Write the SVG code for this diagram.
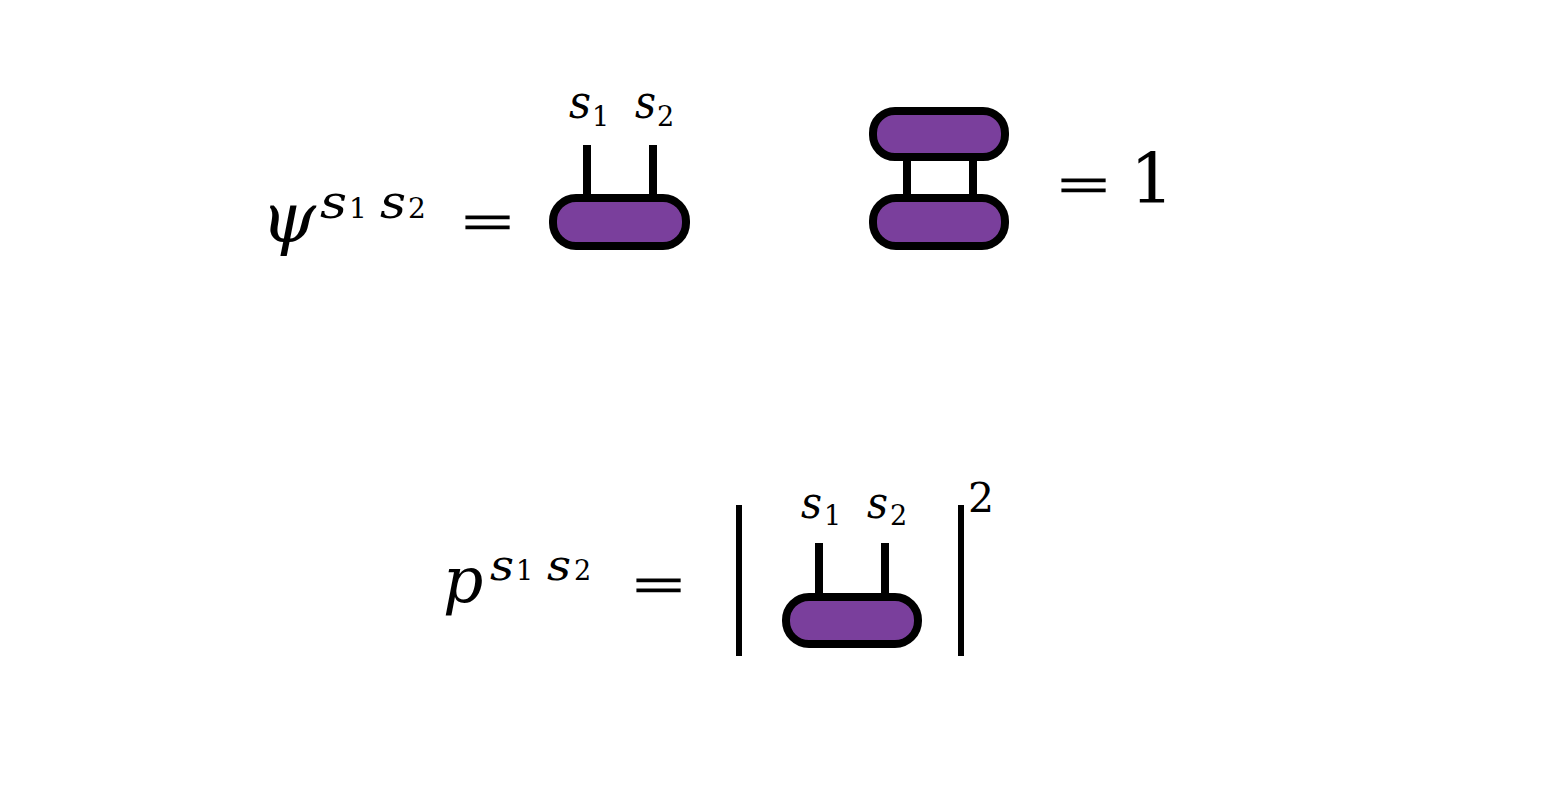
<svg xmlns="http://www.w3.org/2000/svg" width="1560" height="812" viewBox="0 0 1560 812">
<style>
.t{font-family:"DejaVu Serif","Liberation Serif",serif;fill:#000}
.it{font-style:italic}
.eq{font-family:"Liberation Serif","Times New Roman",serif;fill:#000;stroke:#000;stroke-width:1.2}
.node{fill:#7a3f9c;stroke:#000;stroke-width:8}
.leg{stroke:#000;stroke-width:8;fill:none}
.bar{stroke:#000;stroke-width:6;fill:none}
</style>
<rect width="1560" height="812" fill="#fff"/>
<g id="eq1-lhs">
<text class="t it" x="261" y="242" font-size="70">ψ</text>
<text class="t it" x="320" y="218" font-size="47" textLength="27" lengthAdjust="spacingAndGlyphs">s</text>
<text class="t" x="349" y="218" font-size="28">1</text>
<text class="t it" x="380" y="218" font-size="47" textLength="26" lengthAdjust="spacingAndGlyphs">s</text>
<text class="t" x="408" y="218" font-size="28">2</text>
<text class="eq" x="462" y="239" font-size="50" textLength="51" lengthAdjust="spacingAndGlyphs">=</text>
</g>
<g id="connectors">
<line class="leg" x1="587" y1="145" x2="587" y2="198"/>
<line class="leg" x1="653" y1="145" x2="653" y2="198"/>
<line class="leg" x1="907" y1="157" x2="907" y2="198"/>
<line class="leg" x1="973" y1="157" x2="973" y2="198"/>
<line class="leg" x1="819" y1="543" x2="819" y2="597"/>
<line class="leg" x1="885" y1="543" x2="885" y2="597"/>
</g>
<g id="node-psi">
<rect class="node" x="553" y="198" width="133" height="48" rx="23"/>
<text class="t it" x="569" y="118" font-size="46" textLength="22" lengthAdjust="spacingAndGlyphs">s</text>
<text class="t" x="592" y="126" font-size="27">1</text>
<text class="t it" x="635" y="118" font-size="46" textLength="21" lengthAdjust="spacingAndGlyphs">s</text>
<text class="t" x="657" y="126" font-size="27">2</text>
</g>
<g id="node-norm-top">
<rect class="node" x="873" y="111" width="132" height="46" rx="22"/>
</g>
<g id="node-norm-bottom">
<rect class="node" x="873" y="198" width="132" height="48" rx="23"/>
</g>
<g id="eq2-rhs">
<text class="eq" x="1058" y="202" font-size="50" textLength="51" lengthAdjust="spacingAndGlyphs">=</text>
<text class="t" x="1130" y="203" font-size="69">1</text>
</g>
<g id="eq3-lhs">
<text class="t it" x="443" y="602" font-size="63">p</text>
<text class="t it" x="490" y="580" font-size="43" textLength="24" lengthAdjust="spacingAndGlyphs">s</text>
<text class="t" x="516" y="580" font-size="27">1</text>
<text class="t it" x="547" y="580" font-size="43" textLength="24" lengthAdjust="spacingAndGlyphs">s</text>
<text class="t" x="574" y="580" font-size="27">2</text>
<text class="eq" x="633" y="602" font-size="50" textLength="51" lengthAdjust="spacingAndGlyphs">=</text>
</g>
<g id="node-p">
<line class="bar" x1="739" y1="505" x2="739" y2="656"/>
<line class="bar" x1="961" y1="505" x2="961" y2="656"/>
<rect class="node" x="786" y="597" width="132" height="47" rx="23"/>
<text class="t it" x="801" y="518" font-size="45" textLength="21" lengthAdjust="spacingAndGlyphs">s</text>
<text class="t" x="824" y="525" font-size="27">1</text>
<text class="t it" x="867" y="518" font-size="45" textLength="21" lengthAdjust="spacingAndGlyphs">s</text>
<text class="t" x="890" y="525" font-size="27">2</text>
<text class="t" x="968" y="512" font-size="41">2</text>
</g>
</svg>
